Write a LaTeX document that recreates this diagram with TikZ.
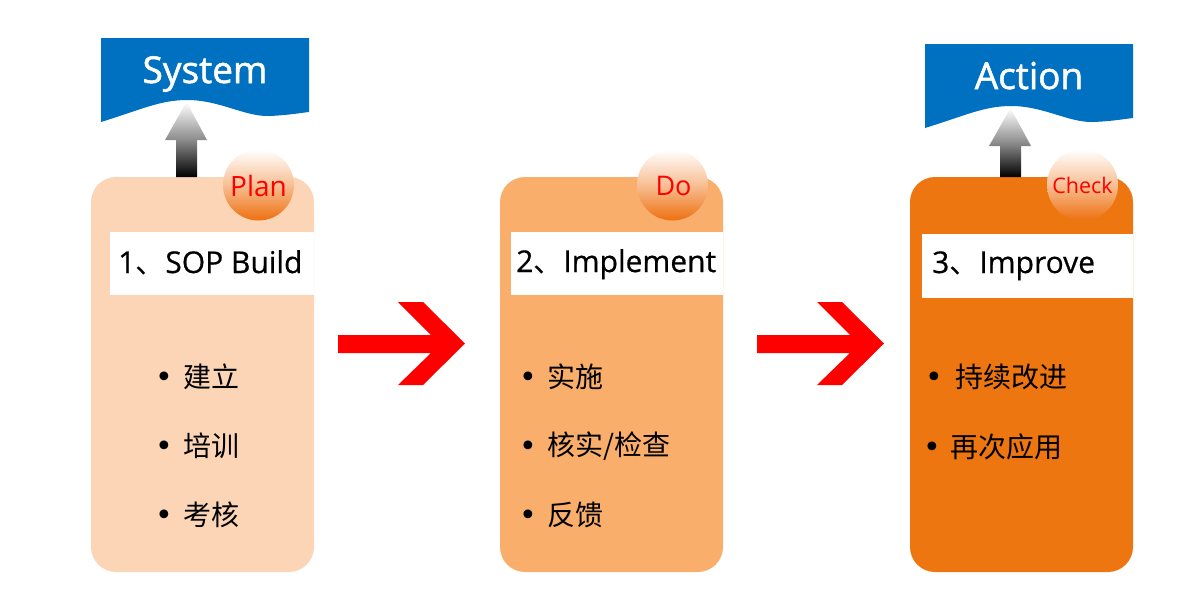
\documentclass[tikz,border=0pt]{standalone}
\usepackage{fontspec}
\setmainfont{Open Sans}
\newfontfamily\semib[FakeBold=1.4]{Open Sans}
\newfontfamily\medium[FakeBold=0.6]{Open Sans}
\newfontfamily\cjk{Noto Sans CJK SC}
\newfontfamily\dejavu{DejaVu Sans}
\definecolor{boxA}{HTML}{FBD5B5}
\definecolor{boxB}{HTML}{F9AE6B}
\definecolor{boxC}{HTML}{EE7610}
\definecolor{bannerblue}{HTML}{0070C0}
\definecolor{ballorange}{HTML}{EE7010}
\begin{document}
\begin{tikzpicture}[x=1pt,y=-1pt,
  stagebox/.style={rounded corners=25pt, minimum width=223pt, minimum height=395pt, inner sep=0pt, draw=none},
  head/.style={font=\medium\fontsize{30}{32}\selectfont, anchor=base west, inner sep=0pt},
  ball/.style={circle, minimum size=71pt, inner sep=0pt, top color=white, bottom color=ballorange, middle color=ballorange!45!white},
  balltext/.style={text=red, anchor=base, inner sep=0pt},
  item/.style={font=\cjk\fontsize{28}{30}\selectfont, anchor=west, inner sep=0pt},
  dot/.style={font=\dejavu\fontsize{30}{32}\selectfont, inner sep=0pt, yshift=-3pt},
  banner/.style={fill=bannerblue},
  bannertext/.style={text=white, font=\semib\fontsize{37}{40}\selectfont, anchor=base, inner sep=0pt},
  redarrow/.style={fill=red},
]
\useasboundingbox (0,0) rectangle (1200,600);

% stage boxes
\node[stagebox, fill=boxA] (b1) at (202.5,374.5) {};
\node[stagebox, fill=boxB] (b2) at (611.5,374.5) {};
\node[stagebox, fill=boxC] (b3) at (1021.5,374.5) {};

% white title bands
\fill[white] (110,232) rectangle (314,295);
\fill[white] (511,232) rectangle (723,295);
\fill[white] (922,234) rectangle (1133,298);
\node[head] (h1) at (118,273) {1{\cjk 、}SOP Build};
\node[head] (h2) at (516,272) {2{\cjk 、}Implement};
\node[head] (h3) at (932,273) {3{\cjk 、}Improve};

% banners
\fill[banner] (101,38) -- (309,38) -- (309,112)
  .. controls (300,113) and (290,115) .. (270,116)
  .. controls (245,117) and (220,100) .. (187,100)
  .. controls (160,100) and (140,110) .. (101,122) -- cycle;
\node[bannertext] (sys) at (205,83) {System};
\begin{scope}[shift={(824,6)}]
\fill[banner] (101,38) -- (309,38) -- (309,112)
  .. controls (300,113) and (290,115) .. (270,116)
  .. controls (245,117) and (220,100) .. (187,100)
  .. controls (160,100) and (140,110) .. (101,122) -- cycle;
\end{scope}
\node[bannertext] (act) at (1029,89) {Action};

% grey up arrows
\shade[top color=white, bottom color=black, middle color=black!45]
  (176,177) -- (176,140) -- (165,140) -- (186.5,102) -- (207,140) -- (197,140) -- (197,177) -- cycle;
\shade[top color=white, bottom color=black, middle color=black!45]
  (1000,177) -- (1000,146) -- (989,146) -- (1010.5,108) -- (1031,146) -- (1021,146) -- (1021,177) -- cycle;

% balls
\node[ball] (plan) at (258.5,185) {};
\node[ball] (do) at (672.5,185) {};
\node[ball] (check) at (1082.5,185) {};
\node[balltext, font=\fontsize{28}{30}\selectfont] (plant) at (258.5,196) {Plan};
\node[balltext, font=\fontsize{27}{30}\selectfont] (dot) at (673.5,195) {Do};
\node[balltext, font=\fontsize{21.5}{24}\selectfont] (checkt) at (1082.5,193) {Check};

% red arrows
\fill[redarrow] (338,335) -- (431,335) -- (398,302) -- (423,302) -- (465,343.5) -- (423,385) -- (398,385) -- (431,353) -- (338,353) -- cycle;
\begin{scope}[shift={(419,0)}]
\fill[redarrow] (338,335) -- (431,335) -- (398,302) -- (423,302) -- (465,343.5) -- (423,385) -- (398,385) -- (431,353) -- (338,353) -- cycle;
\end{scope}

% items box 1
\node[dot] (d11) at (164,377) {•}; \node[item] (t11) at (183,377) {建立};
\node[dot] (d12) at (164,446) {•}; \node[item] (t12) at (183,446) {培训};
\node[dot] (d13) at (164,515) {•}; \node[item] (t13) at (183,515) {考核};
% items box 2
\node[dot] (d21) at (528,377) {•}; \node[item] (t21) at (547,377) {实施};
\node[dot] (d22) at (528,446) {•}; \node[item] (t22) at (547,446) {核实/检查};
\node[dot] (d23) at (528,515) {•}; \node[item] (t23) at (547,515) {反馈};
% items box 3
\node[dot] (d31) at (934,377) {•}; \node[item] (t31) at (955,377) {持续改进};
\node[dot] (d32) at (932,447) {•}; \node[item] (t32) at (950,447) {再次应用};
\end{tikzpicture}
\end{document}
